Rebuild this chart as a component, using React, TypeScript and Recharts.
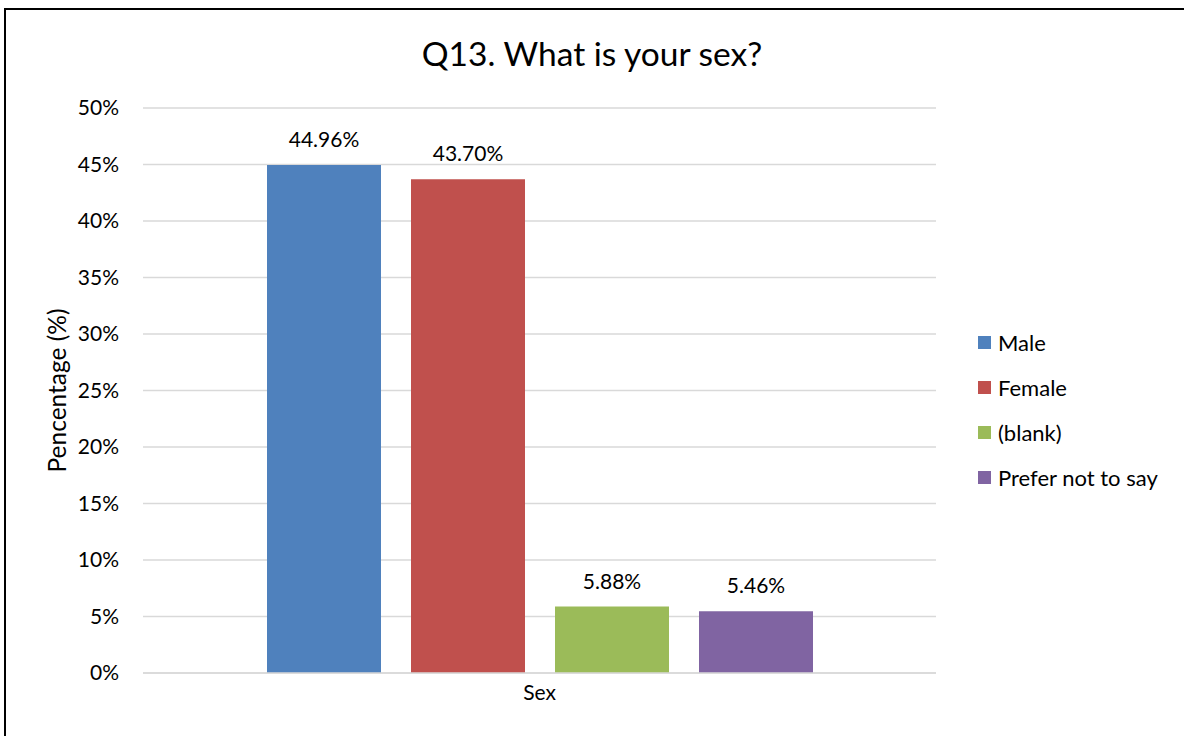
import { BarChart, Bar, XAxis, YAxis, CartesianGrid, Legend, LabelList } from "recharts"

const CATEGORIES = ["Sex"]
const SERIES = [
  { key: "male", label: "Male", color: "#4F81BD" },
  { key: "female", label: "Female", color: "#C0504D" },
  { key: "blank", label: "(blank)", color: "#9BBB59" },
  { key: "prefer", label: "Prefer not to say", color: "#8064A2" },
]
const MALE = [44.96]
const FEMALE = [43.7]
const BLANK = [5.88]
const PREFER = [5.46]
const Y_TICKS = [0, 5, 10, 15, 20, 25, 30, 35, 40, 45, 50]

const FONT = "Lato, 'Open Sans', sans-serif"

const data = CATEGORIES.map((name, i) => ({
  name,
  male: MALE[i],
  female: FEMALE[i],
  blank: BLANK[i],
  prefer: PREFER[i],
}))

// keep legend in series order (recharts sorts by name otherwise)
function LegendBox({ payload }: any) {
  const items = SERIES.map((s) => (payload || []).find((p: any) => p.dataKey === s.key)).filter(Boolean)
  return (
    <div style={{ fontFamily: FONT, fontSize: 22, color: "#000" }}>
      {items.map((p: any) => (
        <div key={p.value} style={{ display: "flex", alignItems: "center", height: 45 }}>
          <span style={{ width: 13, height: 13, background: p.color, marginRight: 7, display: "inline-block" }} />
          <span>{p.value}</span>
        </div>
      ))}
    </div>
  )
}

function YTitle({ viewBox }: any) {
  const cx = 56
  const cy = viewBox.y + viewBox.height / 2
  return (
    <text x={cx} y={cy} transform={`rotate(-90 ${cx} ${cy})`} textAnchor="middle" dominantBaseline="central"
      fontFamily={FONT} fontSize={24.5} fill="#000">
      Pencentage (%)
    </text>
  )
}

export default function App() {
  return (
    <div style={{ position: "fixed", left: 0, top: 0, width: 1184, height: 736, overflow: "hidden", background: "#fff" }}>
      <div style={{ position: "absolute", left: 4, top: 8, width: 1300, height: 900, border: "2px solid #000" }} />
      <div style={{ position: "absolute", left: 0, top: 33, width: 1184, textAlign: "center", fontFamily: FONT, fontSize: 33.5, color: "#000" }}>
        Q13. What is your sex?
      </div>
      <div style={{ position: "absolute", left: 0, top: 0 }}>
        <BarChart width={1184} height={736} data={data} margin={{ top: 108, right: 248, bottom: 23, left: 43 }}
          barCategoryGap={124} barGap={30}>
          <CartesianGrid vertical={false} stroke="#D9D9D9" strokeWidth={1.5} />
          <XAxis dataKey="name" height={40} tickLine={false} axisLine={{ stroke: "#D9D9D9", strokeWidth: 1.5 }}
            tickSize={0} tickMargin={12} tick={{ fontFamily: FONT, fontSize: 21, fill: "#000" }} />
          <YAxis width={100} domain={[0, 50]} ticks={Y_TICKS} tickFormatter={(v) => `${v}%`} axisLine={false}
            tickLine={false} tickSize={0} tickMargin={24} tick={{ fontFamily: FONT, fontSize: 21, fill: "#000" }}
            label={{ content: YTitle }} />
          <Legend layout="horizontal" verticalAlign="middle" align="center" content={LegendBox}
            wrapperStyle={{ left: 978, top: 320, width: 206, height: 190 }} />
          {SERIES.map((s) => (
            <Bar key={s.key} dataKey={s.key} name={s.label} fill={s.color} isAnimationActive={false}>
              <LabelList dataKey={s.key} position="top" offset={18} formatter={(v: any) => `${Number(v).toFixed(2)}%`}
                style={{ fontFamily: FONT, fontSize: 21, fill: "#000" }} />
            </Bar>
          ))}
        </BarChart>
      </div>
    </div>
  )
}
